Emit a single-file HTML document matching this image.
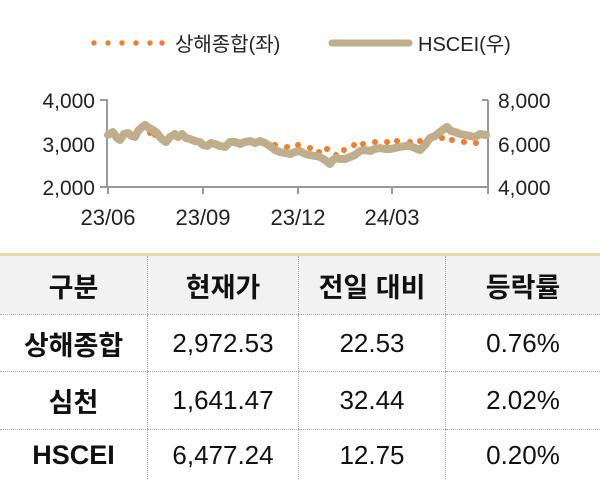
<!DOCTYPE html>
<html><head><meta charset="utf-8"><style>
body{margin:0;background:#fff;font-family:"Liberation Sans","Noto Sans CJK KR",sans-serif;}
#w{position:relative;width:600px;height:480px;overflow:hidden;}
table{position:absolute;left:0;top:253px;width:600px;border-collapse:collapse;border-top:3px solid #e9d8a6;}
td{text-align:center;font-size:26px;color:#111;border-left:1px dotted #aaa;border-bottom:1px dotted #aaa;padding:0;}
td:first-child{border-left:none;font-weight:bold;font-size:27px;}
tr.h td{background:#f2f2f2;font-weight:bold;height:58px;font-size:27px;}
</style></head><body><div id="w">
<svg width="600" height="253" style="position:absolute;left:0;top:0" font-family="Liberation Sans,Noto Sans CJK KR,sans-serif">
<g fill="#ee7d2c"><circle cx="94" cy="43" r="2.7"/><circle cx="108" cy="43" r="2.7"/><circle cx="122" cy="43" r="2.7"/><circle cx="136" cy="43" r="2.7"/><circle cx="150" cy="43" r="2.7"/><circle cx="162" cy="43" r="2.7"/></g>
<text x="175" y="51" font-size="20" fill="#222">상해종합(좌)</text>
<line x1="332" y1="43" x2="409" y2="43" stroke="#bfae8c" stroke-width="7" stroke-linecap="round"/>
<text x="418" y="51" font-size="20" fill="#222">HSCEI(우)</text>
<g stroke="#999" stroke-width="2" fill="none">
<path d="M100 100H107V187H100M107 187H488M488 100H482M488 187V100"/>
<path d="M108 187v7M203 187v7M298 187v7M392 187v7M488 187v7"/>
</g>
<g font-size="21" fill="#222">
<text x="95" y="108" text-anchor="end">4,000</text><text x="95" y="152" text-anchor="end">3,000</text><text x="95" y="195" text-anchor="end">2,000</text>
<text x="498" y="108">8,000</text><text x="498" y="152">6,000</text><text x="498" y="195">4,000</text>
</g>
<g font-size="22" fill="#222">
<text x="108" y="225" text-anchor="middle">23/06</text><text x="203" y="225" text-anchor="middle">23/09</text><text x="298" y="225" text-anchor="middle">23/12</text><text x="392" y="225" text-anchor="middle">24/03</text>
</g>
<g fill="#ee7d2c">
<circle cx="275" cy="145" r="3"/><circle cx="287" cy="147" r="3"/><circle cx="298" cy="145" r="3"/><circle cx="310" cy="148" r="3"/><circle cx="319" cy="152" r="3"/><circle cx="327" cy="149" r="3"/><circle cx="336" cy="155" r="3"/><circle cx="344" cy="150" r="3"/><circle cx="354" cy="145" r="3"/><circle cx="363" cy="144" r="3"/><circle cx="375" cy="142" r="3"/><circle cx="387" cy="142" r="3"/><circle cx="397" cy="141" r="3"/><circle cx="410" cy="142" r="3"/><circle cx="420" cy="141" r="3"/><circle cx="430" cy="139" r="3"/><circle cx="442" cy="138" r="3"/><circle cx="452" cy="140" r="3"/><circle cx="464" cy="142" r="3"/><circle cx="476" cy="143" r="3"/>
<circle cx="130" cy="133" r="3"/><circle cx="150" cy="133" r="3"/><circle cx="155" cy="135" r="3"/>
</g>
<polyline fill="none" stroke="#bfae8c" stroke-width="8" stroke-linejoin="round" stroke-linecap="round" points="108,135 113,132 117,138 120,140 124,134 128,133 132,136 135,137 138,131 142,127 145,125 149,128 153,130 157,133 160,137 163,140 166,142 170,137 175,134 178,137 182,134 186,138 190,139 195,141 200,142 203,145 207,146 211,143 215,144 220,146 225,147 230,142 235,142 240,144 245,142 250,141 255,143 260,141 265,143 270,146 275,150 280,152 285,153 290,154 295,152 300,151 305,154 310,155 315,156 320,157 325,160 330,164 333,160 336,158 340,159 345,159 350,157 355,155 360,151 365,150 370,151 375,149 380,148 385,149 390,149 395,148 400,147 405,146 410,146 415,148 420,150 425,145 430,138 435,136 440,132 444,129 447,127 451,131 455,132 460,134 465,135 470,136 475,137 480,134 486,135"/>
</svg>
<table>
<tr class="h"><td style="width:147px">구분</td><td style="width:150px">현재가</td><td style="width:146px">전일 대비</td><td>등락률</td></tr>
<tr style="height:57px"><td>상해종합</td><td>2,972.53</td><td>22.53</td><td>0.76%</td></tr>
<tr style="height:58px"><td>심천</td><td>1,641.47</td><td>32.44</td><td>2.02%</td></tr>
<tr style="height:52px"><td>HSCEI</td><td>6,477.24</td><td>12.75</td><td>0.20%</td></tr>
</table>
</div></body></html>
